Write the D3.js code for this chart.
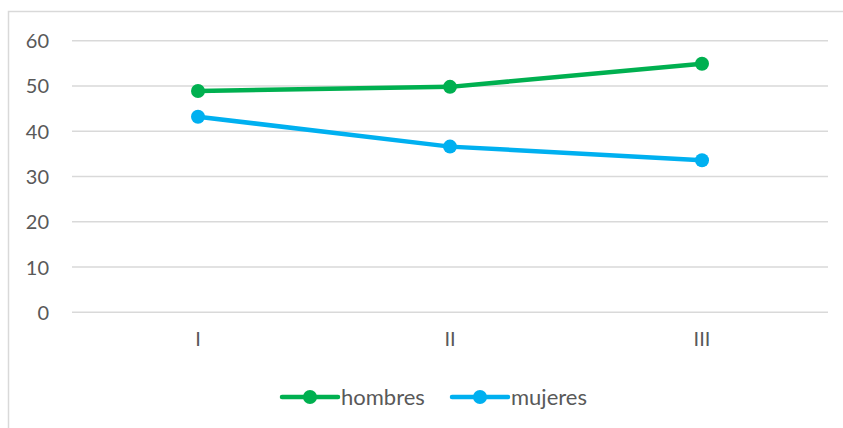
<!DOCTYPE html>
<html>
<head>
<meta charset="utf-8">
<script src="https://cdn.jsdelivr.net/npm/d3@7"></script>
<style>
  body { margin: 0; background: #fff; }
  text { font-family: Lato, "Open Sans", sans-serif; fill: #595959; }
</style>
</head>
<body>
<svg width="843" height="428"></svg>
<script>
const categories = ["I", "II", "III"];
const hombres = [48.9, 49.8, 54.9];
const mujeres = [43.2, 36.6, 33.6];
const yTicks = [0, 10, 20, 30, 40, 50, 60];

const series = [
  {name: "hombres", values: hombres, color: "#00B050"},
  {name: "mujeres", values: mujeres, color: "#00B0F0"}
];

const svg = d3.select("svg");
const plotLeft = 72, plotRight = 828, plotTop = 40.7, plotBottom = 312.3;

// chart area border (only top and left visible in the crop)
svg.append("path")
  .attr("d", "M8.5,428 V11.5 H843")
  .attr("fill", "none").attr("stroke", "#D9D9D9").attr("stroke-width", 1.5);

const x = d3.scaleBand().domain(categories).range([plotLeft, plotRight]);
const y = d3.scaleLinear().domain([0, 60]).range([plotBottom, plotTop]);

const g = svg.append("g");

g.selectAll(".grid").data(yTicks).enter().append("line")
  .attr("x1", plotLeft).attr("x2", plotRight)
  .attr("y1", d => y(d)).attr("y2", d => y(d))
  .attr("stroke", "#D9D9D9").attr("stroke-width", 1.5);

const yAxis = g.append("g").attr("transform", "translate(" + 49 + ",0)")
  .call(d3.axisLeft(y).tickValues(yTicks).tickSize(0).tickPadding(0));
yAxis.select(".domain").remove();
yAxis.selectAll("text").style("font-size", "20px").attr("font-family", null).attr("dy", "0.35em");

const xAxis = g.append("g").attr("transform", "translate(0," + plotBottom + ")")
  .call(d3.axisBottom(x).tickSize(0).tickPadding(20));
xAxis.select(".domain").remove();
xAxis.selectAll("text").style("font-size", "20px").attr("font-family", null);

const line = d3.line()
  .x((d, i) => x(categories[i]) + x.bandwidth() / 2)
  .y(d => y(d));

series.forEach(s => {
  g.append("path")
    .datum(s.values)
    .attr("d", line)
    .attr("fill", "none")
    .attr("stroke", s.color)
    .attr("stroke-width", 4.5)
    .attr("stroke-linecap", "round")
    .attr("stroke-linejoin", "round");
  g.selectAll(".pt-" + s.name).data(s.values).enter().append("circle")
    .attr("cx", (d, i) => x(categories[i]) + x.bandwidth() / 2)
    .attr("cy", d => y(d))
    .attr("r", 7)
    .attr("fill", s.color);
});

// legend
const legendX = [282, 452];
const legend = svg.append("g");
series.forEach((s, i) => {
  const lg = legend.append("g").attr("transform", "translate(" + legendX[i] + ",397)");
  lg.append("line").attr("x1", 0).attr("x2", 56).attr("y1", 0).attr("y2", 0)
    .attr("stroke", s.color).attr("stroke-width", 4.5).attr("stroke-linecap", "round");
  lg.append("circle").attr("cx", 28).attr("cy", 0).attr("r", 7).attr("fill", s.color);
  lg.append("text").attr("x", 59).attr("y", 0).attr("dy", "0.35em")
    .style("font-size", "22px").text(s.name);
});
</script>
</body>
</html>
